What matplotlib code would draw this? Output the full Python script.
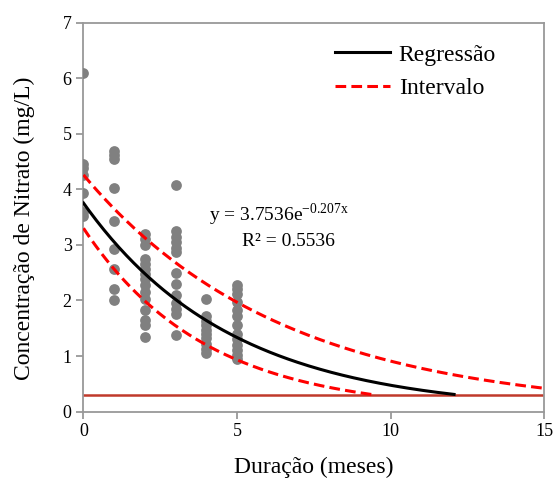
import numpy as np
import matplotlib
matplotlib.use('Agg')
import matplotlib.pyplot as plt

plt.rcParams['font.family'] = ['Liberation Serif', 'DejaVu Serif']
plt.rcParams['mathtext.fontset'] = 'custom'
plt.rcParams['mathtext.rm'] = 'Liberation Serif'

# nitrate measurements per month
months = [0, 1, 2, 3, 4, 5]
nitrate = [
    [6.1, 4.45, 4.38, 4.25, 3.93, 3.6, 3.52],
    [4.69, 4.62, 4.55, 4.02, 3.43, 2.93, 2.57, 2.2, 2.0],
    [3.2, 3.11, 2.99, 2.75, 2.66, 2.57, 2.48, 2.39, 2.27, 2.15, 2.03,
     1.82, 1.64, 1.55, 1.34],
    [4.07, 3.25, 3.15, 3.05, 2.95, 2.88, 2.5, 2.3, 2.1, 1.95, 1.85,
     1.75, 1.37],
    [2.02, 1.72, 1.63, 1.55, 1.47, 1.4, 1.32, 1.22, 1.12, 1.05],
    [2.28, 2.2, 2.12, 1.98, 1.82, 1.72, 1.55, 1.4, 1.3, 1.2, 1.1,
     1.02, 0.95],
]

# exponential fit y = a*exp(b*x) and interval bounds
reg_a, reg_b = 3.7536, -0.207
r2 = 0.5536
upper_a, upper_b = 4.26, -0.1545
lower_a, lower_b = 3.30, -0.253
reg_xmax, upper_xmax, lower_xmax = 12.07, 15.0, 9.48
limit = 0.3

fig = plt.figure(figsize=(5.54, 4.78), dpi=100)
ax = fig.add_axes([0.1507, 0.139, 0.8313, 0.8135])

xs, ys = [], []
for m, vals in zip(months, nitrate):
    xs += [m] * len(vals)
    ys += vals
ax.scatter(xs, ys, s=60, color='#808080', zorder=3, linewidths=0)

ax.axhline(limit, color='#C0392B', lw=1.8, zorder=2)

x = np.linspace(0, reg_xmax, 200)
ax.plot(x, reg_a * np.exp(reg_b * x), color='black', lw=2.2, zorder=4,
        label='Regressão')
x = np.linspace(0, upper_xmax, 200)
ax.plot(x, upper_a * np.exp(upper_b * x), color='#FF0000', lw=2.2,
        dashes=(3.5, 1.7), zorder=4, label='Intervalo')
x = np.linspace(0, lower_xmax, 200)
ax.plot(x, lower_a * np.exp(lower_b * x), color='#FF0000', lw=2.2,
        dashes=(3.5, 1.7), zorder=4)

ax.text(6.37, 3.54, r'y = 3.7536e$^{\mathrm{-0.207x}}$', ha='center',
        va='center', fontsize=14)
ax.text(6.66, 3.07, 'R² = %.4f' % r2, ha='center', va='center',
        fontsize=14)

ax.set_xlim(0, 15)
ax.set_ylim(0, 7)
ax.set_xticks([0, 5, 10, 15])
ax.set_yticks(range(8))
for s in ax.spines.values():
    s.set_color('#999999')
    s.set_linewidth(1.3)
ax.tick_params(colors='#999999', labelcolor='black', labelsize=13,
               length=5, width=1.3)
ax.set_xlabel('Duração (meses)', fontsize=17, labelpad=12)
ax.set_ylabel('Concentração de Nitrato (mg/L)', fontsize=17)
ax.yaxis.set_label_coords(-0.105, 0.47)

ax.legend(loc='upper left', frameon=False, fontsize=17, handlelength=2.35,
          handletextpad=0.35, labelspacing=0.5, borderpad=0,
          borderaxespad=0, bbox_to_anchor=(0.546, 0.945))

fig.savefig('out.png', dpi=100)
